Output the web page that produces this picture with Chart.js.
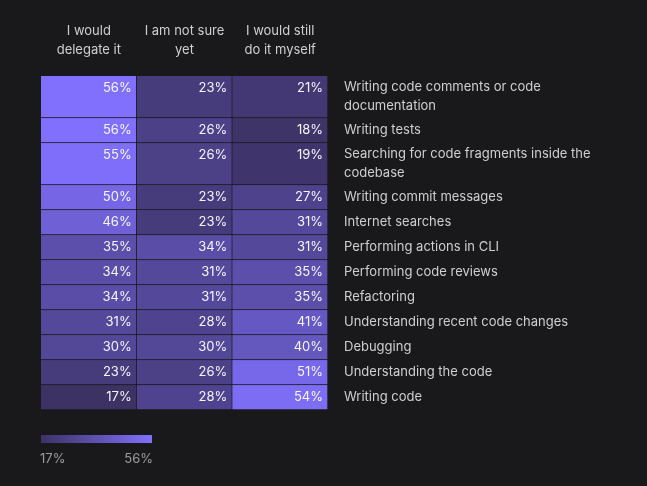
<!DOCTYPE html>
<html>
<head>
<meta charset="utf-8">
<script src="https://cdn.jsdelivr.net/npm/chart.js@4"></script>
<style>
    html, body { margin: 0; padding: 0; background: #19191b; }
    #wrap { width: 647px; height: 486px; }
</style>
</head>
<body>
<div id="wrap"><canvas id="chart" width="647" height="486"></canvas></div>
<script>
// Column headers (answer options)
const columns = [['I would', 'delegate it'], ['I am not sure', 'yet'], ['I would still', 'do it myself']];

// Tasks, top to bottom
const tasks = [
    'Writing code comments or code documentation',
    'Writing tests',
    'Searching for code fragments inside the codebase',
    'Writing commit messages',
    'Internet searches',
    'Performing actions in CLI',
    'Performing code reviews',
    'Refactoring',
    'Understanding recent code changes',
    'Debugging',
    'Understanding the code',
    'Writing code'
];

// Shares in percent
const delegate = [56, 56, 55, 50, 46, 35, 34, 34, 31, 30, 23, 17];
const notSure  = [23, 26, 26, 23, 23, 34, 31, 31, 28, 30, 26, 28];
const myself   = [21, 18, 19, 27, 31, 31, 35, 35, 41, 40, 51, 54];

// Colour scale ends
const scaleMin = 17;
const scaleMax = 56;

const colors = {
    background: '#19191b',
    text: '#cfcfd2',
    value: '#f6f6fa',
    legend: '#9c9ca0',
    low: [60, 50, 100],
    high: [128, 112, 253]
};
const fontFamily = 'Inter, "Noto Sans", sans-serif';

function cellColor(v) {
    const t = Math.max(0, Math.min(1, (v - scaleMin) / (scaleMax - scaleMin)));
    const c = colors.low.map((lo, i) => Math.round(lo + (colors.high[i] - lo) * t));
    return 'rgb(' + c.join(',') + ')';
}

// Wrap task labels the way the original does (max ~250px per line)
const measure = document.createElement('canvas').getContext('2d');
measure.font = '13px ' + fontFamily;
function wrap(text, maxWidth) {
    const words = text.split(' ');
    const lines = [];
    let line = '';
    words.forEach(w => {
        const test = line ? line + ' ' + w : w;
        if (line && measure.measureText(test).width > maxWidth) {
            lines.push(line);
            line = w;
        } else {
            line = test;
        }
    });
    lines.push(line);
    return lines;
}
const taskLines = tasks.map(t => wrap(t, 252));

// Row extents: taller rows for two-line labels
const rowSpans = [];
let pos = 0;
taskLines.forEach(lines => {
    const h = 25 + (lines.length - 1) * 17;
    rowSpans.push([pos, pos + h]);
    pos += h;
});
const total = pos;
const rowCenters = rowSpans.map(s => (s[0] + s[1]) / 2);

const series = [delegate, notSure, myself];
const datasets = tasks.map((t, r) => ({
    label: t,
    data: columns.map(() => rowSpans[r]),
    backgroundColor: series.map(s => cellColor(s[r])),
    borderColor: colors.background,
    borderWidth: { top: 0, left: 0, right: 1, bottom: 1 },
    borderSkipped: false,
    grouped: false,
    barPercentage: 1,
    categoryPercentage: 1
}));

// Percent text in each cell, top right
const valueLabels = {
    id: 'valueLabels',
    afterDatasetsDraw(chart) {
        const ctx = chart.ctx;
        ctx.save();
        ctx.font = '13px ' + fontFamily;
        ctx.fillStyle = colors.value;
        ctx.textAlign = 'right';
        ctx.textBaseline = 'middle';
        chart.data.datasets.forEach((ds, r) => {
            chart.getDatasetMeta(r).data.forEach((bar, c) => {
                const top = Math.min(bar.y, bar.base);
                ctx.fillText(series[c][r] + '%', bar.x + bar.width / 2 - 5, top + 12);
            });
        });
        ctx.restore();
    }
};

// Gradient legend below the grid
const colorLegend = {
    id: 'colorLegend',
    afterDraw(chart) {
        const ctx = chart.ctx;
        const x = chart.chartArea.left, y = 435, w = 111, h = 8;
        ctx.save();
        const g = ctx.createLinearGradient(x, 0, x + w, 0);
        g.addColorStop(0, cellColor(scaleMin));
        g.addColorStop(1, cellColor(scaleMax));
        ctx.fillStyle = g;
        ctx.fillRect(x, y, w, h);
        ctx.font = '13px ' + fontFamily;
        ctx.fillStyle = colors.legend;
        ctx.textBaseline = 'middle';
        ctx.textAlign = 'left';
        ctx.fillText(scaleMin + '%', x - 1, 459);
        ctx.textAlign = 'right';
        ctx.fillText(scaleMax + '%', x + w + 1, 459);
        ctx.restore();
    }
};

new Chart(document.getElementById('chart'), {
    type: 'bar',
    data: { labels: columns, datasets: datasets },
    plugins: [valueLabels, colorLegend],
    options: {
        responsive: false,
        animation: false,
        layout: { padding: { left: 41, right: 0, top: 0, bottom: 76 } },
        plugins: {
            legend: { display: false },
            tooltip: { enabled: false }
        },
        scales: {
            x: {
                position: 'top',
                grid: { display: false, drawTicks: false },
                border: { display: false },
                ticks: {
                    color: colors.text,
                    font: { family: fontFamily, size: 13, lineHeight: 19 / 13 },
                    padding: 16,
                    maxRotation: 0
                },
                afterFit(scale) { scale.height = 76; }
            },
            y: {
                type: 'linear',
                position: 'right',
                reverse: true,
                min: 0,
                max: total,
                grid: { display: false, drawTicks: false },
                border: { display: false },
                afterBuildTicks(scale) {
                    scale.ticks = rowCenters.map(v => ({ value: v }));
                },
                ticks: {
                    autoSkip: false,
                    color: colors.text,
                    font: { family: fontFamily, size: 13, lineHeight: 19 / 13 },
                    padding: 16,
                    callback: (value, i) => taskLines[i]
                },
                afterFit(scale) { scale.width = 319; }
            }
        }
    }
});
</script>
</body>
</html>
